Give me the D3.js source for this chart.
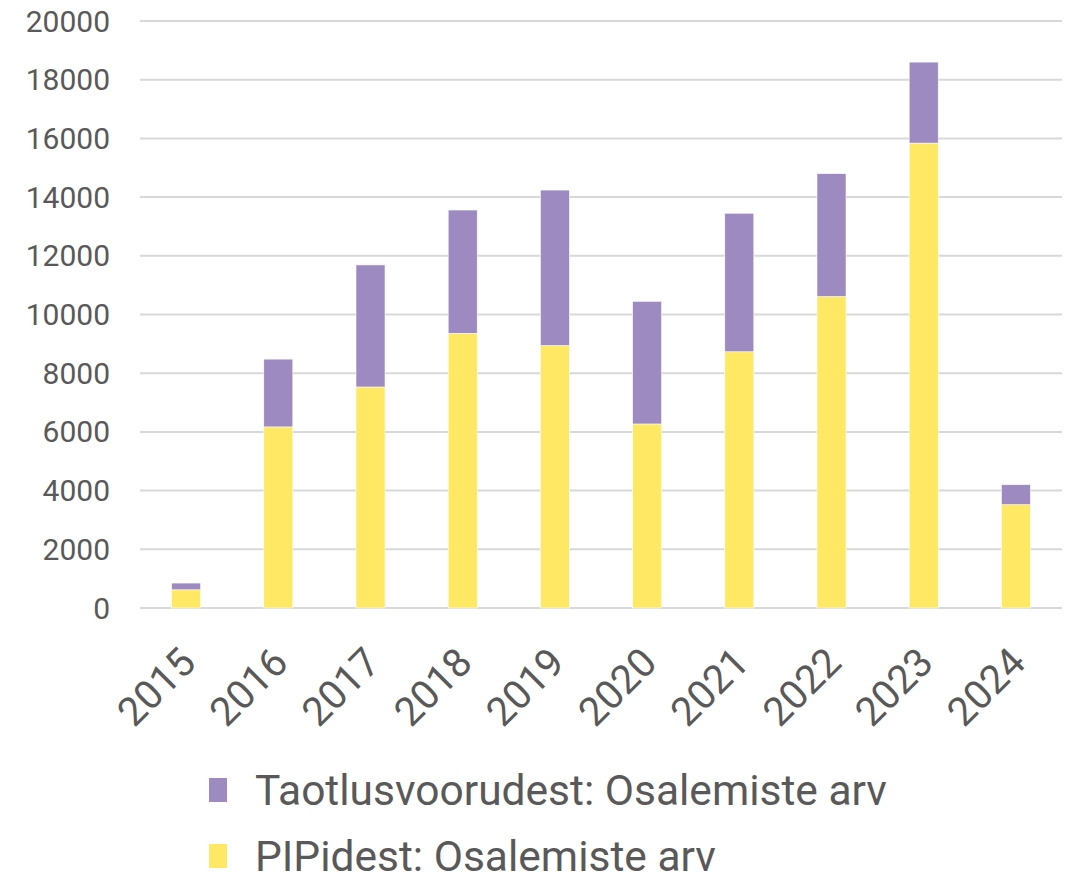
<!DOCTYPE html>
<html>
<head>
<meta charset="utf-8">
<script src="https://cdn.jsdelivr.net/npm/d3@7"></script>
<style>
  body { margin: 0; background: #fff; }
  text { font-family: Roboto, "Noto Sans", sans-serif; fill: #595959; }
</style>
</head>
<body>
<div id="chart"></div>
<script>
// data
var years = ["2015", "2016", "2017", "2018", "2019", "2020", "2021", "2022", "2023", "2024"];
var pipidest = [620, 6170, 7530, 9360, 8940, 6270, 8730, 10610, 15840, 3520];
var taotlusvoorudest = [230, 2310, 4160, 4200, 5300, 4180, 4720, 4190, 2760, 680];
var yTicks = [0, 2000, 4000, 6000, 8000, 10000, 12000, 14000, 16000, 18000, 20000];
var seriesNames = ["Taotlusvoorudest: Osalemiste arv", "PIPidest: Osalemiste arv"];
var colors = { pip: "#ffe864", taot: "#9d8ac1" };

var w = 1076, h = 876;
var plotLeft = 140, plotRight = 1062, plotTop = 21, plotBottom = 608;

var svg = d3.select("#chart")
    .append("svg")
    .attr("width", w)
    .attr("height", h);

var x = d3.scaleBand()
    .domain(years)
    .range([plotLeft, plotRight])
    .paddingInner(0.685)
    .paddingOuter(0.3425);

var y = d3.scaleLinear()
    .domain([0, 20000])
    .range([plotBottom, plotTop]);

// gridlines
svg.append("g")
    .selectAll("line")
    .data(yTicks)
    .enter()
    .append("line")
    .attr("x1", plotLeft)
    .attr("x2", plotRight)
    .attr("y1", d => y(d))
    .attr("y2", d => y(d))
    .style("stroke", "#d9d9d9")
    .style("stroke-width", 2);

// y labels
svg.append("g")
    .selectAll("text")
    .data(yTicks)
    .enter()
    .append("text")
    .attr("x", 110)
    .attr("y", d => y(d))
    .attr("dy", "0.35em")
    .attr("text-anchor", "end")
    .style("font-size", "30px")
    .text(d => d);

// stacked bars
var rows = years.map((yr, i) => ({ year: yr, pip: pipidest[i], taot: taotlusvoorudest[i] }));
var stack = d3.stack().keys(["pip", "taot"]);
var layers = stack(rows);

svg.append("g")
    .selectAll("g")
    .data(layers)
    .enter()
    .append("g")
    .style("fill", d => colors[d.key])
    .selectAll("rect")
    .data(d => d)
    .enter()
    .append("rect")
    .attr("x", d => x(d.data.year))
    .attr("width", x.bandwidth())
    .attr("y", d => y(d[1]))
    .attr("height", d => y(d[0]) - y(d[1]))
    .style("stroke", "#fff")
    .style("stroke-width", 0.6);

// x labels, rotated
svg.append("g")
    .selectAll("text")
    .data(years)
    .enter()
    .append("text")
    .attr("transform", d => "translate(" + (x(d) + x.bandwidth() / 2 - 8) + ",645) rotate(-45)")
    .attr("text-anchor", "end")
    .attr("dy", "0.7em")
    .style("font-size", "40px")
    .text(d => d);

// legend
var legend = svg.append("g");
var legendItems = [
    { name: seriesNames[0], color: colors.taot, y: 790 },
    { name: seriesNames[1], color: colors.pip, y: 856 }
];
legendItems.forEach(function (item) {
    legend.append("rect")
        .attr("x", 209)
        .attr("y", item.y - 12)
        .attr("width", 18)
        .attr("height", 24)
        .style("fill", item.color);
    legend.append("text")
        .attr("x", 255)
        .attr("y", item.y)
        .attr("dy", "0.36em")
        .style("font-size", "42.5px")
        .text(item.name);
});
</script>
</body>
</html>
